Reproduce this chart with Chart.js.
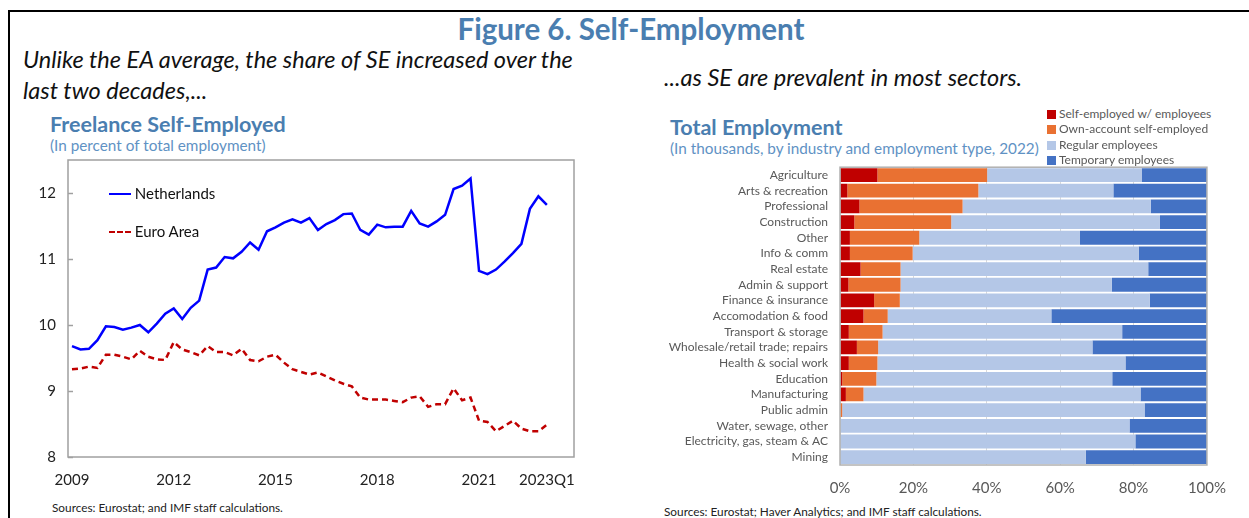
<!DOCTYPE html>
<html>
<head>
<meta charset="utf-8">
<script src="https://cdn.jsdelivr.net/npm/chart.js@4"></script>
<style>
  body { margin: 0; width: 1249px; height: 518px; background: #fff; position: relative; overflow: hidden; font-family: Lato, "Open Sans", sans-serif; }
  .abs { position: absolute; white-space: nowrap; }
  .frame { left: 8px; top: 10px; width: 1260px; height: 520px; border-top: 2px solid #000; border-left: 2px solid #000; }
  .fig { left: 0; width: 1262px; top: 11px; text-align: center; font-size: 29.5px; font-weight: bold; color: #4a7eb0; }
  .lead { font-style: italic; font-size: 23.5px; color: #111; }
  .ttl { font-weight: bold; font-size: 21.5px; color: #4a7eb0; }
  .sub { font-size: 15.3px; color: #5f92c4; }
  .src { font-size: 11.8px; color: #222; }
  .leg { font-size: 15px; color: #111; }
  .rleg { font-size: 12px; color: #595959; }
  .sq { display: inline-block; width: 9px; height: 9px; margin-right: 3px; vertical-align: -1px; }
</style>
</head>
<body>
<div class="abs frame"></div>
<div class="abs fig">Figure 6. Self-Employment</div>
<div class="abs lead" style="left:23px; top:45px;">Unlike the EA average, the share of SE increased over the</div>
<div class="abs lead" style="left:23px; top:76px;">last two decades,...</div>
<div class="abs lead" style="left:664px; top:63px;">...as SE are prevalent in most sectors.</div>

<div class="abs ttl" style="left:50px; top:111px;">Freelance Self-Employed</div>
<div class="abs sub" style="left:50px; top:136px;">(In percent of total employment)</div>
<div class="abs ttl" style="left:670px; top:114px;">Total Employment</div>
<div class="abs sub" style="left:670px; top:139px;">(In thousands, by industry and employment type, 2022)</div>

<div class="abs" style="left:20px; top:139px; width:570px; height:356px;"><canvas id="left"></canvas></div>
<div class="abs" style="left:660px; top:148px; width:580px; height:352px;"><canvas id="right"></canvas></div>

<div class="abs leg" style="left:109px; top:184px;"><span style="display:inline-block;width:22px;border-top:2.5px solid #0000ff;vertical-align:4px;"></span> Netherlands</div>
<div class="abs leg" style="left:109px; top:222px;"><span style="display:inline-block;width:22px;border-top:2.5px dashed #c00000;vertical-align:4px;"></span> Euro Area</div>

<div class="abs rleg" style="left:1047px; top:106px;"><span class="sq" style="background:#c00000"></span>Self-employed w/ employees</div>
<div class="abs rleg" style="left:1047px; top:121px;"><span class="sq" style="background:#e97132"></span>Own-account self-employed</div>
<div class="abs rleg" style="left:1047px; top:137px;"><span class="sq" style="background:#b4c7e7"></span>Regular employees</div>
<div class="abs rleg" style="left:1047px; top:152px;"><span class="sq" style="background:#4472c4"></span>Temporary employees</div>

<div class="abs src" style="left:52px; top:500px;">Sources: Eurostat; and IMF staff calculations.</div>
<div class="abs src" style="left:664px; top:504px;">Sources: Eurostat; Haver Analytics; and IMF staff calculations.</div>

<script>
// quarterly, 2009Q1 .. 2023Q1
const netherlands = [9.68, 9.63, 9.64, 9.77, 9.98, 9.97, 9.93, 9.96, 10.00, 9.89,
  10.02, 10.17, 10.25, 10.09, 10.26, 10.37, 10.84, 10.87, 11.03, 11.01,
  11.11, 11.25, 11.14, 11.42, 11.48, 11.55, 11.60, 11.55, 11.62, 11.44,
  11.53, 11.59, 11.68, 11.69, 11.44, 11.37, 11.52, 11.48, 11.49, 11.49,
  11.73, 11.54, 11.49, 11.57, 11.67, 12.06, 12.11, 12.22, 10.82, 10.77,
  10.84, 10.96, 11.09, 11.23, 11.76, 11.95, 11.82];
const euroArea = [9.33, 9.34, 9.37, 9.35, 9.55, 9.55, 9.52, 9.48, 9.61, 9.52,
  9.48, 9.47, 9.74, 9.63, 9.59, 9.54, 9.68, 9.59, 9.59, 9.54,
  9.64, 9.47, 9.45, 9.52, 9.55, 9.43, 9.33, 9.29, 9.25, 9.28,
  9.22, 9.16, 9.11, 9.07, 8.90, 8.87, 8.87, 8.87, 8.85, 8.83,
  8.90, 8.92, 8.76, 8.80, 8.80, 9.04, 8.86, 8.90, 8.55, 8.53,
  8.39, 8.47, 8.55, 8.43, 8.39, 8.39, 8.49];
const xTickIndex = [0, 12, 24, 36, 48, 56];
const xTickLabels = ['2009', '2012', '2015', '2018', '2021', '2023Q1'];

const sectors = ['Agriculture', 'Arts & recreation', 'Professional', 'Construction', 'Other',
  'Info & comm', 'Real estate', 'Admin & support', 'Finance & insurance', 'Accomodation & food',
  'Transport & storage', 'Wholesale/retail trade; repairs', 'Health & social work', 'Education',
  'Manufacturing', 'Public admin', 'Water, sewage, other', 'Electricity, gas, steam & AC', 'Mining'];
const selfEmpWithEmp = [10.2, 2.0, 5.3, 3.9, 2.7, 2.7, 5.6, 2.3, 9.3, 6.4, 2.4, 4.6, 2.4, 0.6, 1.6, 0, 0, 0, 0];
const ownAccount     = [29.9, 35.7, 28.1, 26.4, 18.9, 17.1, 10.9, 14.2, 7.0, 6.6, 9.2, 5.8, 7.8, 9.3, 4.8, 0.6, 0, 0, 0];
const regular        = [42.1, 36.8, 51.3, 56.9, 43.8, 61.6, 67.5, 57.6, 68.1, 44.6, 65.3, 58.4, 67.6, 64.3, 75.5, 82.4, 78.9, 80.5, 67.0];
const temporary      = [17.8, 25.5, 15.3, 12.8, 34.6, 18.6, 16.0, 25.9, 15.6, 42.4, 23.1, 31.2, 22.2, 25.8, 18.1, 17.0, 21.1, 19.5, 33.0];

const boxPlugin = {
  id: 'box',
  afterDraw(chart, args, opts) {
    const a = chart.chartArea, ctx = chart.ctx;
    ctx.save();
    ctx.strokeStyle = opts.color || '#a0a0a0';
    ctx.lineWidth = 1.5;
    ctx.strokeRect(a.left, a.top, a.right - a.left, a.bottom - a.top);
    if (opts.innerTicks) {
      const y = chart.scales.y;
      y.ticks.forEach(t => {
        const py = Math.round(y.getPixelForValue(t.value)) + 0.5;
        ctx.beginPath();
        ctx.moveTo(a.left, py);
        ctx.lineTo(a.left + 5, py);
        ctx.stroke();
      });
    }
    ctx.restore();
  }
};

new Chart(document.getElementById('left'), {
  type: 'line',
  data: {
    datasets: [
      { label: 'Netherlands', data: netherlands.map((v, i) => ({ x: i, y: v })),
        borderColor: '#0000ff', borderWidth: 2.5, pointRadius: 0, tension: 0 },
      { label: 'Euro Area', data: euroArea.map((v, i) => ({ x: i, y: v })),
        borderColor: '#c00000', borderWidth: 2.5, borderDash: [6, 4], pointRadius: 0, tension: 0 }
    ]
  },
  options: {
    responsive: true, maintainAspectRatio: false, animation: false,
    layout: { padding: { top: 5, right: 16, left: 0, bottom: 0 } },
    plugins: { legend: { display: false }, tooltip: { enabled: false }, box: { color: '#a0a0a0', innerTicks: true } },
    scales: {
      x: {
        type: 'linear', min: -0.47, max: 59.2,
        grid: { display: false, drawTicks: false }, border: { display: false },
        afterBuildTicks: s => { s.ticks = xTickIndex.map(v => ({ value: v })); },
        afterFit: s => { s.height = 38; },
        ticks: { padding: 14, color: '#222', font: { family: 'Lato', size: 15 },
          callback: v => xTickLabels[xTickIndex.indexOf(v)] }
      },
      y: {
        min: 8, max: 12.5,
        grid: { display: false, drawTicks: false }, border: { display: false },
        afterBuildTicks: s => { s.ticks = [8, 9, 10, 11, 12].map(v => ({ value: v })); },
        afterFit: s => { s.width = 48; },
        ticks: { padding: 12, color: '#222', font: { family: 'Lato', size: 15 } }
      }
    }
  },
  plugins: [boxPlugin]
});

const barDs = (label, data, color) => ({ label, data, backgroundColor: color, borderWidth: 0, barPercentage: 0.88, categoryPercentage: 1 });

new Chart(document.getElementById('right'), {
  type: 'bar',
  data: {
    labels: sectors,
    datasets: [
      barDs('Self-employed w/ employees', selfEmpWithEmp, '#c00000'),
      barDs('Own-account self-employed', ownAccount, '#e97132'),
      barDs('Regular employees', regular, '#b4c7e7'),
      barDs('Temporary employees', temporary, '#4472c4')
    ]
  },
  options: {
    indexAxis: 'y',
    responsive: true, maintainAspectRatio: false, animation: false,
    layout: { padding: { top: 6, right: 32, left: 0, bottom: 0 } },
    plugins: { legend: { display: false }, tooltip: { enabled: false }, box: { color: '#b0b0b0' } },
    scales: {
      x: {
        stacked: true, min: 0, max: 100,
        grid: { color: '#d9d9d9', drawTicks: false }, border: { display: false },
        afterFit: s => { s.height = 35; },
        ticks: { stepSize: 20, padding: 14, color: '#595959', font: { family: 'Lato', size: 15 }, callback: v => v + '%' }
      },
      y: {
        stacked: true,
        grid: { display: false, drawTicks: false }, border: { display: false },
        afterFit: s => { s.width = 180; },
        ticks: { padding: 12, color: '#595959', autoSkip: false, font: { family: 'Lato', size: 12 } }
      }
    }
  },
  plugins: [boxPlugin]
});
</script>
</body>
</html>
